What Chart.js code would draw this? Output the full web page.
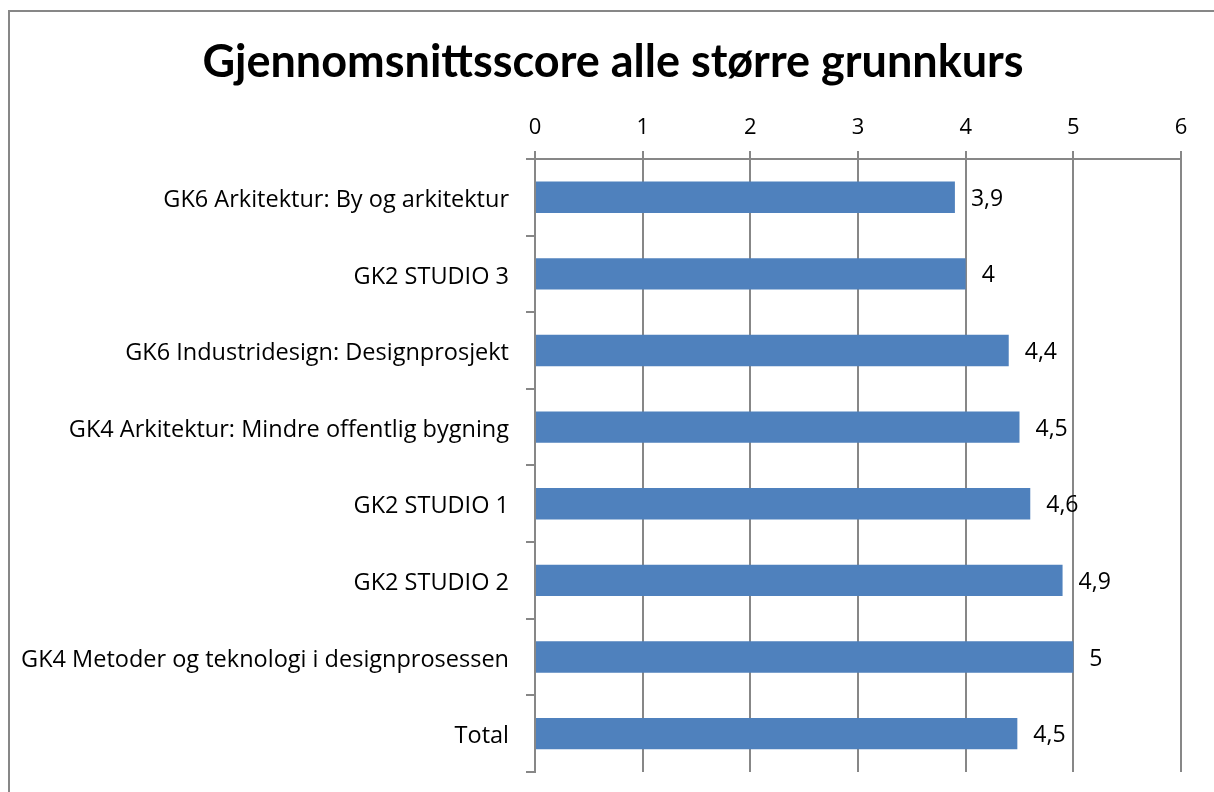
<!DOCTYPE html>
<html>
<head>
<meta charset="utf-8">
<script src="https://cdn.jsdelivr.net/npm/chart.js@4"></script>
<style>
  html, body { margin: 0; padding: 0; background: #fff; overflow: hidden; }
  #wrap { position: relative; width: 1214px; height: 792px; overflow: hidden; }
</style>
</head>
<body>
<div id="wrap"><canvas id="myChart" width="1214" height="803"></canvas></div>
<script>
const kurs = [
  'GK6 Arkitektur: By og arkitektur',
  'GK2 STUDIO 3',
  'GK6 Industridesign: Designprosjekt',
  'GK4 Arkitektur: Mindre offentlig bygning',
  'GK2 STUDIO 1',
  'GK2 STUDIO 2',
  'GK4 Metoder og teknologi i designprosessen',
  'Total'
];
const score = [3.9, 4.0, 4.4, 4.5, 4.6, 4.9, 5.0, 4.48];
const xTicks = [0, 1, 2, 3, 4, 5, 6];
const tittel = 'Gjennomsnittsscore alle større grunnkurs';

const fontName = '"Open Sans", sans-serif';
const titleFont = 'Lato, "Open Sans", sans-serif';
const grå = '#878787';

// ramme rundt hele diagrammet + tittel
const ramme = {
  id: 'ramme',
  beforeDraw(chart) {
    const c = chart.ctx;
    c.save();
    c.fillStyle = '#fff';
    c.fillRect(0, 0, chart.width, chart.height);
    c.strokeStyle = grå;
    c.lineWidth = 2;
    c.beginPath();
    c.moveTo(9, chart.height + 5);
    c.lineTo(9, 11);
    c.lineTo(chart.width + 5, 11);
    c.stroke();
    c.fillStyle = '#000';
    c.font = 'bold 45px ' + titleFont;
    c.textAlign = 'center';
    c.textBaseline = 'alphabetic';
    c.fillText(tittel, 613, 77);
    c.restore();
  }
};

// verdier ved enden av stolpene
const verdier = {
  id: 'verdier',
  afterDatasetsDraw(chart) {
    const c = chart.ctx;
    const meta = chart.getDatasetMeta(0);
    c.save();
    c.font = '23px ' + fontName;
    c.fillStyle = '#000';
    c.textAlign = 'left';
    c.textBaseline = 'middle';
    meta.data.forEach((bar, i) => {
      const txt = score[i].toFixed(1).replace('.0', '').replace('.', ',');
      c.fillText(txt, bar.x + 16, bar.y + 2);
    });
    c.restore();
  }
};

const ctx = document.getElementById('myChart');
const myChart = new Chart(ctx, {
  type: 'bar',
  data: {
    labels: kurs,
    datasets: [{
      data: score,
      backgroundColor: '#4F81BD',
      borderWidth: 0,
      barPercentage: 0.41,
      categoryPercentage: 1
    }]
  },
  options: {
    indexAxis: 'y',
    responsive: false,
    animation: false,
    // bunnen blir ca 31px over canvas-kanten uansett, derfor er canvas litt hoeyere enn vinduet
    layout: { autoPadding: false, padding: { left: 0, right: 33, top: 94, bottom: 10 } },
    plugins: {
      legend: { display: false },
      tooltip: { enabled: false },
      title: { display: false }
    },
    scales: {
      x: {
        position: 'top',
        min: 0,
        max: 6,
        afterBuildTicks(scale) { scale.ticks = xTicks.map(v => ({ value: v })); },
        afterFit(scale) { scale.height = 159 - 94; },
        ticks: { color: '#000', font: { family: fontName, size: 22 }, padding: 10 },
        grid: { color: grå, lineWidth: 2, tickLength: 8 },
        border: { color: grå, width: 2 }
      },
      y: {
        afterFit(scale) { scale.width = 535; },
        ticks: { color: '#000', font: { family: fontName, size: 23.5 }, padding: 17, labelOffset: 3 },
        grid: { offset: true, drawOnChartArea: false, color: grå, lineWidth: 2, tickLength: 9 },
        border: { color: grå, width: 2 }
      }
    }
  },
  plugins: [ramme, verdier]
});
</script>
</body>
</html>
